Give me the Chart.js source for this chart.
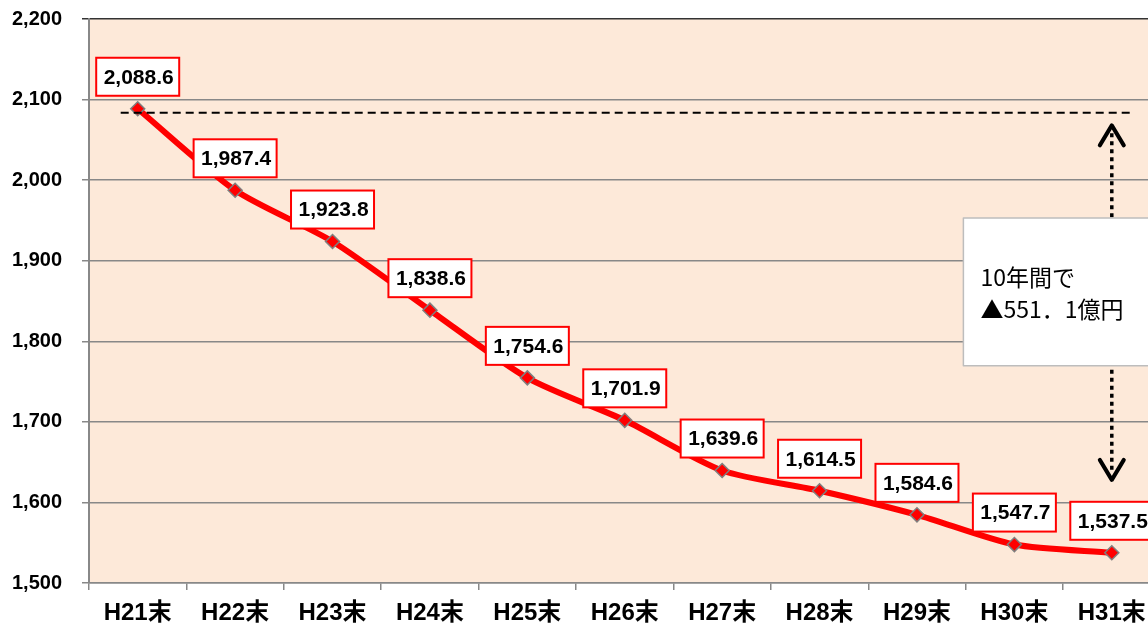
<!DOCTYPE html>
<html>
<head>
<meta charset="utf-8">
<script src="https://cdn.jsdelivr.net/npm/chart.js@4"></script>
<style>
  html, body { margin: 0; padding: 0; background: #fff; overflow: hidden; }
  #wrap { width: 1169px; height: 628px; }
</style>
</head>
<body>
<div id="wrap"><canvas id="debtChart"></canvas></div>
<script>
// 年度末残高（億円）
const categories = ['H21末', 'H22末', 'H23末', 'H24末', 'H25末', 'H26末', 'H27末', 'H28末', 'H29末', 'H30末', 'H31末'];
const balances = [2088.6, 1987.4, 1923.8, 1838.6, 1754.6, 1701.9, 1639.6, 1614.5, 1584.6, 1547.7, 1537.5];
const yMin = 1500;
const yMax = 2200;
const yStep = 100;
const noteLines = ['10年間で', '▲551．1億円'];

const FONT = "'Liberation Sans', Arial, 'Noto Sans CJK JP', sans-serif";

const fmt = (v, d) => v.toLocaleString('en-US', { minimumFractionDigits: d, maximumFractionDigits: d });

// white boxes with red border above each point
const valueLabels = {
    id: 'valueLabels',
    afterDatasetsDraw(chart) {
        const ctx = chart.ctx;
        const meta = chart.getDatasetMeta(0);
        ctx.save();
        ctx.font = 'bold 21px ' + FONT;
        ctx.textAlign = 'center';
        ctx.textBaseline = 'middle';
        meta.data.forEach((pt, i) => {
            const w = 83, h = 38;
            const x = pt.x - w / 2;
            const y = pt.y - 13 - h;
            ctx.fillStyle = '#fff';
            ctx.fillRect(x, y, w, h);
            ctx.strokeStyle = '#ff0000';
            ctx.lineWidth = 2;
            ctx.strokeRect(x, y, w, h);
            ctx.fillStyle = '#000';
            ctx.fillText(fmt(balances[i], 1), pt.x + 1, y + h / 2 + 1);
        });
        ctx.restore();
    }
};

// dashed reference line, dotted double arrow and note box
const notes = {
    id: 'notes',
    afterDatasetsDraw(chart) {
        const ctx = chart.ctx;
        const xs = chart.scales.x, ys = chart.scales.y;
        const first = chart.getDatasetMeta(0).data[0];
        const last = balances.length - 1;
        const ax = xs.getPixelForValue(last);
        ctx.save();

        // dashed line at the starting level
        const dy = first.y + 4;
        ctx.strokeStyle = '#000';
        ctx.lineWidth = 1.8;
        ctx.setLineDash([8, 5]);
        ctx.beginPath();
        ctx.moveTo(first.x - 17, dy);
        ctx.lineTo(ax + 19, dy);
        ctx.stroke();

        // dotted arrows
        const topTip = ys.getPixelForValue(2068);
        const botTip = ys.getPixelForValue(1628);
        const boxTop = ys.getPixelForValue(1953);
        const boxBot = ys.getPixelForValue(1769.5);
        ctx.lineWidth = 3.5;
        ctx.setLineDash([4, 4]);
        ctx.beginPath();
        ctx.moveTo(ax, topTip + 8);
        ctx.lineTo(ax, boxTop);
        ctx.moveTo(ax, boxBot + 4);
        ctx.lineTo(ax, botTip - 6);
        ctx.stroke();
        ctx.setLineDash([]);
        ctx.lineWidth = 4;
        ctx.lineCap = 'round';
        ctx.lineJoin = 'round';
        ctx.beginPath();
        ctx.moveTo(ax - 12, topTip + 20);
        ctx.lineTo(ax, topTip);
        ctx.lineTo(ax + 12, topTip + 20);
        ctx.moveTo(ax - 12, botTip - 20);
        ctx.lineTo(ax, botTip);
        ctx.lineTo(ax + 12, botTip - 20);
        ctx.stroke();

        // note box
        const bx = xs.getPixelForValue(last - 1) - 51;
        const bw = 186;
        ctx.fillStyle = '#fff';
        ctx.fillRect(bx, boxTop, bw, boxBot - boxTop);
        ctx.strokeStyle = '#bdbdbd';
        ctx.lineWidth = 1.5;
        ctx.strokeRect(bx, boxTop, bw, boxBot - boxTop);
        ctx.fillStyle = '#000';
        ctx.font = "23px 'Noto Sans CJK JP', sans-serif";
        ctx.textAlign = 'left';
        ctx.textBaseline = 'middle';
        const mid = (boxTop + boxBot) / 2;
        ctx.fillText(noteLines[0], bx + 17, mid - 15);
        ctx.fillText(noteLines[1], bx + 17, mid + 17);
        ctx.restore();
    }
};

// peach plot background
const plotBg = {
    id: 'plotBg',
    beforeDraw(chart) {
        const a = chart.chartArea;
        const ctx = chart.ctx;
        ctx.save();
        ctx.fillStyle = '#FDE9D9';
        ctx.fillRect(a.left, a.top, a.right - a.left, a.bottom - a.top);
        ctx.restore();
    }
};

new Chart(document.getElementById('debtChart'), {
    type: 'line',
    data: {
        labels: categories,
        datasets: [{
            data: balances,
            borderColor: '#ff0000',
            borderWidth: 6,
            tension: 0.25,
            pointStyle: 'rectRot',
            pointRadius: 7,
            pointBackgroundColor: '#ff0000',
            pointBorderColor: '#7f7f7f',
            pointBorderWidth: 1.5
        }]
    },
    options: {
        responsive: true,
        maintainAspectRatio: false,
        animation: false,
        layout: { padding: { top: 19, right: 1, left: 0, bottom: 0 } },
        plugins: {
            legend: { display: false },
            tooltip: { enabled: false }
        },
        scales: {
            x: {
                offset: true,
                grid: {
                    offset: true,
                    drawOnChartArea: false,
                    tickLength: 7,
                    color: '#888',
                    lineWidth: 1.5
                },
                border: { color: '#888', width: 1.5 },
                ticks: {
                    color: '#000',
                    padding: 9,
                    font: { family: FONT, size: 24, weight: 'bold' }
                },
                afterFit(scale) { scale.height = 45; scale.paddingLeft = 0; scale.paddingRight = 0; }
            },
            y: {
                min: yMin,
                max: yMax,
                grid: {
                    color: ctx => ctx.tick && ctx.tick.value === yMax ? '#333' : '#888',
                    lineWidth: 1.5,
                    tickLength: 7
                },
                border: { color: '#888', width: 2 },
                ticks: {
                    stepSize: yStep,
                    color: '#000',
                    padding: 20,
                    font: { family: FONT, size: 20, weight: 'bold' },
                    callback: v => fmt(v, 0)
                },
                afterFit(scale) { scale.width = 89; scale.paddingTop = 0; scale.paddingBottom = 0; }
            }
        }
    },
    plugins: [plotBg, valueLabels, notes]
});
</script>
</body>
</html>
